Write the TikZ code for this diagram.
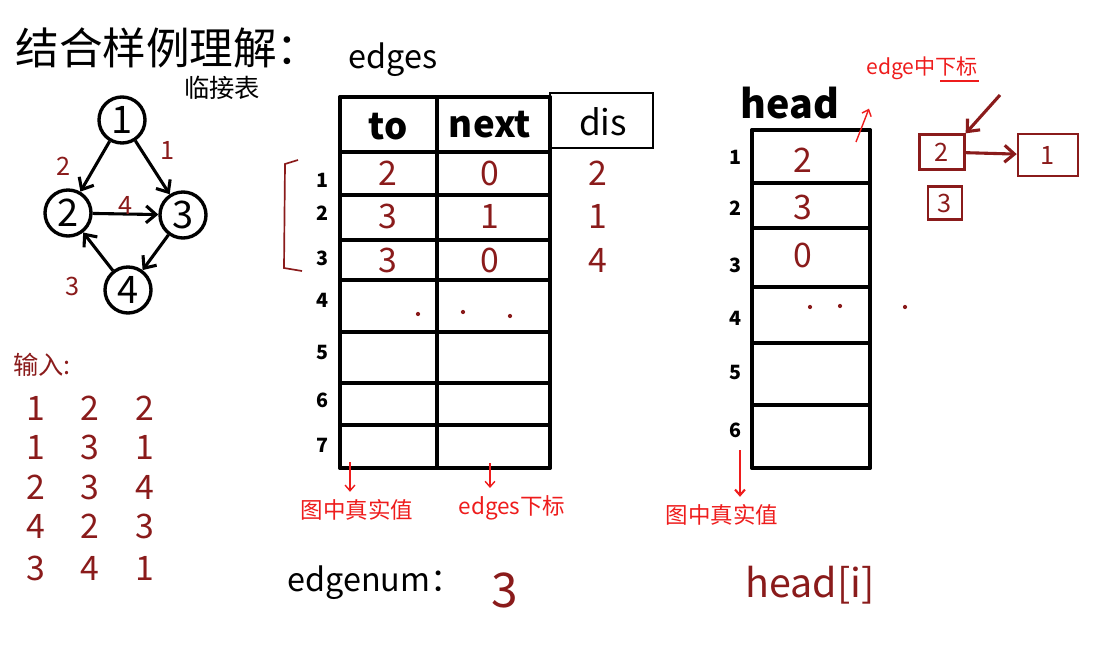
\documentclass[tikz,border=0pt]{standalone}
\usepackage{fontspec}
\setmainfont{Noto Sans CJK SC}
\usetikzlibrary{arrows.meta,positioning}
\definecolor{inkred}{HTML}{EE1C1C}
\definecolor{inkbrown}{HTML}{8A1B1B}
\begin{document}
\begin{tikzpicture}[
    x=0.025cm, y=-0.025cm,
    vertex/.style={circle, draw, line width=2.4pt, minimum size=1.15cm, inner sep=0pt, font=\fontsize{27}{27}\selectfont},
    link/.style={-{Straight Barb[length=7pt,width=12pt]}, line width=2.2pt},
    weight/.style={text=inkbrown, font=\fontsize{18}{18}\selectfont},
    val/.style={text=inkbrown, font=\fontsize{24}{24}\selectfont},
    idx/.style={font=\fontsize{14}{14}\selectfont\bfseries},
    grid/.style={line width=2.6pt, line cap=round},
    note/.style={text=inkred, font=\fontsize{16}{16}\selectfont},
    notearrow/.style={-{Straight Barb[length=4pt,width=7pt]}, inkred, line width=1pt, shorten >=2pt},
    cell/.style={draw=inkbrown, line width=1.8pt, text=inkbrown, inner sep=0pt, font=\fontsize{18}{18}\selectfont},
    dot/.style={circle, fill=inkbrown, inner sep=0pt, minimum size=3pt}
]
\useasboundingbox (0,0) rectangle (1100,670);

% Title
\node (title) at (168,48) {\fontsize{31}{32}\selectfont 结合样例理解：};
\node (adj) at (222,88) {\fontsize{18}{18}\selectfont 临接表};

% Graph
\node[vertex] (v1) at (122,120) {1};
\node[vertex] (v2) at (68,213) {2};
\node[vertex] (v3) at (183,215) {3};
\node[vertex] (v4) at (128,290) {4};
\draw[link] (v1) -- (v2) node[midway, left=0.45cm, weight] {2};
\draw[link] (v1) -- (v3) node[midway, above right=0.05cm and 0.05cm, weight] {1};
\draw[link] (v2) -- (v3) node[midway, above=-5pt, weight] {4};
\draw[link] (v3) -- (v4);
\draw[link] (v4) -- (v2) node[pos=0.1, below left=0.1cm and 0.6cm, weight] {3};

% Input
\node[text=inkbrown, font=\fontsize{18}{18}\selectfont] (inlbl) at (42,365) {输入:};
\foreach \r/\a/\b/\c [count=\i] in {408/1/2/2, 447/1/3/1, 487/2/3/4, 526/4/2/3, 568/3/4/1} {
  \node[val] (in-\i-a) at (36,\r) {\a};
  \node[val] (in-\i-b) at (90,\r) {\b};
  \node[val] (in-\i-c) at (145,\r) {\c};
}

% edges table
\node (edges) at (393,60) {\fontsize{23}{23}\selectfont edges};
\draw[grid] (340,97) -- (340,468);
\draw[grid] (437,97) -- (437,468);
\draw[grid] (550,97) -- (550,468);
\foreach \y in {97,152,195,240,280,332,383,425,468}
  \draw[grid] (340,\y) -- (550,\y);
\draw[line width=1pt] (550,93) rectangle (653,148);
\node[font=\fontsize{26}{26}\selectfont\bfseries] (hto) at (388,127) {to};
\node[font=\fontsize{26}{26}\selectfont\bfseries] (hnext) at (490,125) {next};
\node[font=\fontsize{25}{25}\selectfont] (hdis) at (603,122) {dis};
\foreach \y [count=\i] in {180,213,258,300,352,400,445}
  \node[idx] (er\i) at (322,\y) {\i};
\foreach \y/\t/\n/\d [count=\i] in {173/2/0/2, 216/3/1/1, 260/3/0/4} {
  \node[val] (to\i) at (388,\y) {\t};
  \node[val] (nx\i) at (490,\y) {\n};
  \node[val] (ds\i) at (598,\y) {\d};
}
\draw[inkbrown, line width=1.2pt] (298,160) -- (285,164) -- (284,268) -- (302,271);
\foreach \x/\y [count=\i] in {418/314, 463/312, 510/316}
  \node[dot] (ed\i) at (\x,\y) {};

% Notes under edges
\node[note] (real1) at (357,510) {图中真实值};
\node[note] (sub1) at (512,508) {edges下标};
\coordinate (p1) at (350,462);
\coordinate (p2) at (490,463);
\draw[notearrow] (p1) -- (real1.north -| p1);
\draw[notearrow] (p2) -- (sub1.north -| p2);

% edgenum
\node (enum) at (375,583) {\fontsize{23}{23}\selectfont edgenum：};
\node[val, font=\fontsize{34}{34}\selectfont] (enumv) at (505,590) {3};

% head table
\node[font=\fontsize{28}{28}\selectfont\bfseries] (head) at (790,103) {head};
\draw[grid] (752,130) -- (752,468);
\draw[grid] (870,130) -- (870,468);
\foreach \y in {130,183,228,287,343,405,468}
  \draw[grid] (752,\y) -- (870,\y);
\foreach \y [count=\i] in {157,208,265,318,372,430}
  \node[idx] (hr\i) at (735,\y) {\i};
\foreach \y/\v [count=\i] in {160/2, 207/3, 255/0}
  \node[val] (hv\i) at (803,\y) {\v};
\foreach \x/\y [count=\i] in {810/307, 840/306, 905/307}
  \node[dot] (hd\i) at (\x,\y) {};

% Notes under head
\node[note] (real2) at (722,515) {图中真实值};
\coordinate (p3) at (740,450);
\draw[notearrow, line width=1.5pt] (p3) -- (real2.north -| p3);
\node[text=inkbrown, font=\fontsize{28}{28}\selectfont] (headi) at (810,585) {head[i]};

% edge index note
\node[note, font=\fontsize{15}{15}\selectfont] (esub) at (922,68) {edge中下标};
\draw[inkred, line width=1pt] (940,81) -- (979,81);
\coordinate (p4) at (856,142);
\coordinate (p5) at (870,106);
\draw[notearrow] (p4) -- (p5);

% Linked list
\node[cell, minimum width=1.12cm, minimum height=0.87cm] (b2) at (942,152) {2};
\node[cell, minimum width=1.5cm, minimum height=1.05cm] (b1) at (1048,155) {1};
\node[cell, minimum width=0.85cm, minimum height=0.82cm] (b3) at (945,203) {3};
\draw[link, inkbrown] (b2) -- (b1);
\coordinate (p6) at (1000,95);
\draw[link, inkbrown] (p6) -- (b2.north east);

\end{tikzpicture}
\end{document}
